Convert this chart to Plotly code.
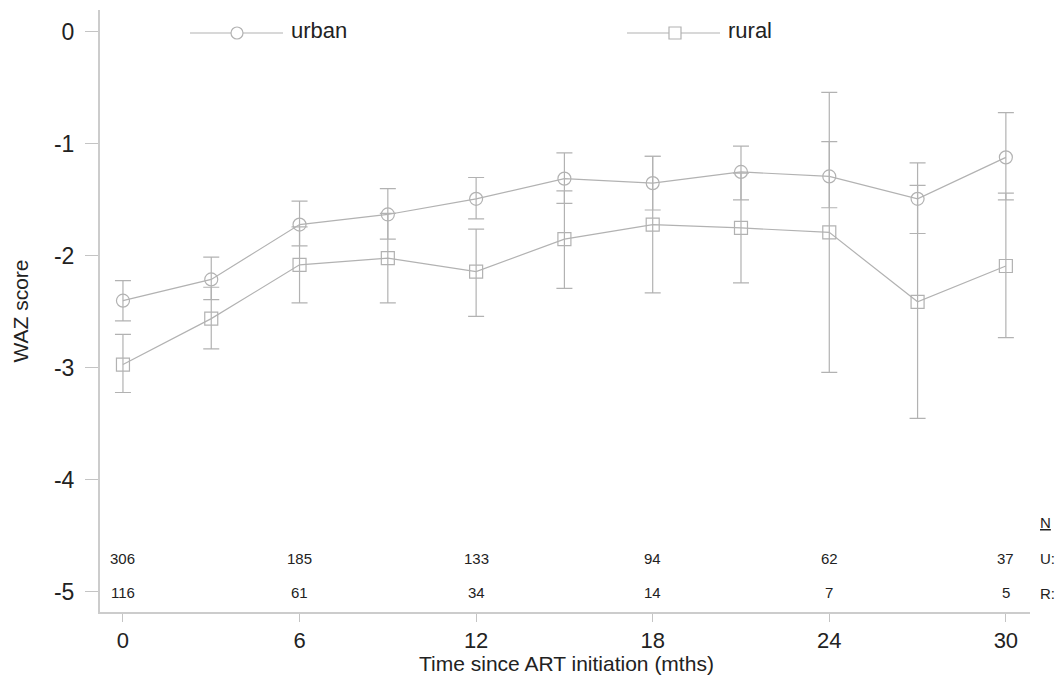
import plotly.graph_objects as go

# Follow-up times (months since ART initiation)
months = [0, 3, 6, 9, 12, 15, 18, 21, 24, 27, 30]

# Mean WAZ score with 95% CI, urban children
urban_mean = [-2.40, -2.21, -1.72, -1.63, -1.49, -1.31, -1.35, -1.25, -1.29, -1.49, -1.12]
urban_lo = [-2.58, -2.39, -1.91, -1.85, -1.67, -1.53, -1.59, -1.50, -1.57, -1.80, -1.50]
urban_hi = [-2.22, -2.01, -1.51, -1.40, -1.30, -1.08, -1.11, -1.02, -0.98, -1.17, -0.72]

# Mean WAZ score with 95% CI, rural children
rural_mean = [-2.97, -2.56, -2.08, -2.02, -2.14, -1.85, -1.72, -1.75, -1.79, -2.41, -2.09]
rural_lo = [-3.22, -2.83, -2.42, -2.42, -2.54, -2.29, -2.33, -2.24, -3.04, -3.45, -2.73]
rural_hi = [-2.70, -2.28, -1.74, -1.62, -1.76, -1.42, -1.11, -1.26, -0.54, -1.37, -1.44]

# Numbers at risk
n_months = [0, 6, 12, 18, 24, 30]
n_urban = [306, 185, 133, 94, 62, 37]
n_rural = [116, 61, 34, 14, 7, 5]

x_ticks = [0, 6, 12, 18, 24, 30]
y_ticks = [0, -1, -2, -3, -4, -5]
y_ticktext = ["0", "-1", "-2", "-3", "-4", "-5"]

GREY = "#b2b2b2"
TEXT = "#222222"
FONT = "Liberation Sans"

fig = go.Figure()


def add_series(mean, lo, hi, symbol, name):
    fig.add_trace(go.Scatter(
        x=months, y=mean, mode="lines+markers", name=name,
        line=dict(color=GREY, width=1.2),
        marker=dict(symbol=symbol, size=13, color=GREY, line=dict(width=1.2, color=GREY)),
        error_y=dict(type="data", symmetric=False,
                     array=[h - m for h, m in zip(hi, mean)],
                     arrayminus=[m - l for m, l in zip(mean, lo)],
                     color=GREY, thickness=1.2, width=8),
        showlegend=False,
    ))


add_series(urban_mean, urban_lo, urban_hi, "circle-open", "urban")
add_series(rural_mean, rural_lo, rural_hi, "square-open", "rural")

# Plot-area frame in pixels, used to place the legend and table labels
L, R, T, B = 100, 1030, 10, 612


def px(x):
    return (x - L) / (R - L)


def py(y):
    return (B - y) / (B - T)


# Numbers-at-risk table inside the plot
ann = []
small = dict(family=FONT, size=15, color=TEXT)
for m, u, r in zip(n_months, n_urban, n_rural):
    ann.append(dict(x=m, y=-4.7, xref="x", yref="y", text=str(u), showarrow=False, font=small))
    ann.append(dict(x=m, y=-5.01, xref="x", yref="y", text=str(r), showarrow=False, font=small))
for label, yy in [("<u>N</u>", 522), ("U:", 558), ("R:", 593)]:
    ann.append(dict(x=px(1038), y=py(yy), xref="paper", yref="paper", text=label,
                    showarrow=False, xanchor="left", yanchor="middle", font=small))

# Legend drawn as line samples with marker glyphs
shapes = []
for x0, x1, xm, label, kind in [(190, 283, 237, "urban", "circle"), (627, 720, 675, "rural", "rect")]:
    yy = py(33)
    shapes.append(dict(type="line", xref="paper", yref="paper", x0=px(x0), x1=px(x1),
                       y0=yy, y1=yy, line=dict(color=GREY, width=1.2)))
    shapes.append(dict(type=kind, xref="paper", yref="paper",
                       xsizemode="pixel", ysizemode="pixel",
                       xanchor=px(xm), yanchor=yy, x0=-6, x1=6, y0=-6, y1=6,
                       fillcolor="white", line=dict(color=GREY, width=1.2)))
    ann.append(dict(x=px(x1 + 6), y=py(31), xref="paper", yref="paper", text=label,
                    showarrow=False, xanchor="left", yanchor="middle",
                    font=dict(family=FONT, size=22, color=TEXT)))

# x-axis title, placed just under the tick labels
ann.append(dict(x=px(566), y=py(663), xref="paper", yref="paper",
                text="Time since ART initiation (mths)", showarrow=False,
                xanchor="center", yanchor="middle",
                font=dict(family=FONT, size=21, color=TEXT)))

fig.update_layout(
    width=1064, height=678,
    margin=dict(l=L, r=1064 - R, t=T, b=678 - B),
    paper_bgcolor="white", plot_bgcolor="white",
    font=dict(family=FONT, color=TEXT),
    annotations=ann, shapes=shapes,
    xaxis=dict(range=[-0.78, 30.82], tickvals=x_ticks, ticks="outside", ticklen=8,
               tickcolor="#c4c4c4", showline=True, linecolor="#cccccc", linewidth=2,
               showgrid=False, zeroline=False, ticklabelstandoff=0, automargin=False,
               tickfont=dict(family=FONT, size=22, color=TEXT)),
    yaxis=dict(range=[-5.18, 0.196], tickvals=y_ticks, ticktext=y_ticktext,
               ticks="outside", ticklen=13, automargin=False,
               tickcolor="#c4c4c4", showline=True, linecolor="#cccccc", linewidth=2,
               showgrid=False, zeroline=False, ticklabelstandoff=6,
               tickfont=dict(family=FONT, size=23, color=TEXT),
               title=dict(text="WAZ score", standoff=20,
                          font=dict(family=FONT, size=21, color=TEXT))),
)

fig.write_html("out.html")
